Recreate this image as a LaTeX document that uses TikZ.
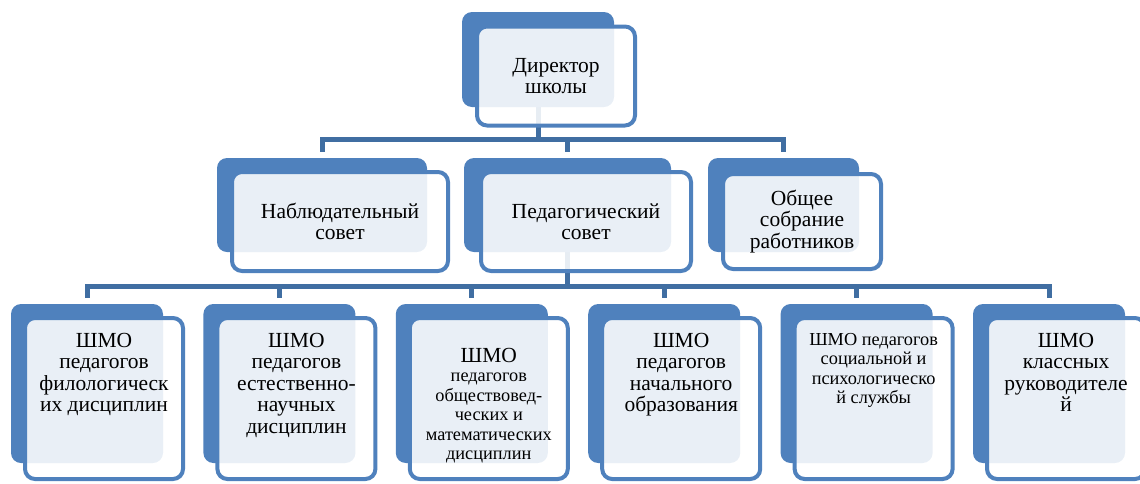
\documentclass[tikz,border=0pt]{standalone}
\usepackage{fontspec}
\setmainfont{Liberation Serif}
\usetikzlibrary{backgrounds}
\definecolor{boxblue}{RGB}{79,129,189}
\definecolor{linkblue}{RGB}{64,110,162}
\newcommand{\boxfont}{\fontsize{21.5}{21.5}\selectfont}
\newcommand{\smallboxfont}{\fontsize{18.3}{19.5}\selectfont}
\begin{document}
\begin{tikzpicture}[x=1pt, y=-1pt, line join=miter,
	back/.style={fill=boxblue, rounded corners=10pt, inner sep=0pt},
	front/.style={draw=boxblue, line width=4pt, fill=white, fill opacity=0.88, text opacity=1, rounded corners=10pt, inner sep=0pt, align=center, font=\boxfont},
	txt/.style={align=center, inner sep=0pt, anchor=north, font=\boxfont},
	link/.style={draw=linkblue, line width=5pt}]
	\useasboundingbox (0,0) rectangle (1140,483);
	\node[back, minimum width=152pt, minimum height=95pt] (bdir) at (538,59.5) {};
	\node[front, minimum width=158pt, minimum height=99pt] (fdir) at (556,76) {Директор\\школы};
	\node[back, minimum width=210pt, minimum height=94pt] (bnab) at (322,205) {};
	\node[front, minimum width=216pt, minimum height=99pt] (fnab) at (340,221.5) {Наблюдательный\\совет};
	\node[back, minimum width=207pt, minimum height=94pt] (bped) at (567.5,205) {};
	\node[front, minimum width=210pt, minimum height=99pt] (fped) at (586,221.5) {Педагогический\\совет};
	\node[back, minimum width=151pt, minimum height=94pt] (bob) at (783.5,205) {};
	\node[front, minimum width=158pt, minimum height=95pt] (fob) at (802,221.5) {Общее\\собрание\\работников};
	\node[back, minimum width=152pt, minimum height=159pt] (b1) at (87,383.5) {};
	\node[front, minimum width=158pt, minimum height=161pt] (f1) at (104,398.5) {};
	\node[back, minimum width=152pt, minimum height=159pt] (b2) at (279.4,383.5) {};
	\node[front, minimum width=158pt, minimum height=161pt] (f2) at (296.4,398.5) {};
	\node[back, minimum width=152pt, minimum height=159pt] (b3) at (471.8,383.5) {};
	\node[front, minimum width=158pt, minimum height=161pt] (f3) at (488.8,398.5) {};
	\node[back, minimum width=152pt, minimum height=159pt] (b4) at (664.2,383.5) {};
	\node[front, minimum width=158pt, minimum height=161pt] (f4) at (681.2,398.5) {};
	\node[back, minimum width=152pt, minimum height=159pt] (b5) at (856.6,383.5) {};
	\node[front, minimum width=158pt, minimum height=161pt] (f5) at (873.6,398.5) {};
	\node[back, minimum width=152pt, minimum height=159pt] (b6) at (1049,383.5) {};
	\node[front, minimum width=158pt, minimum height=161pt] (f6) at (1066,398.5) {};
	\node[txt] (t1) at (f1.north |- 0,333) {ШМО\\педагогов\\филологическ\\их дисциплин};
	\node[txt] (t2) at (f2.north |- 0,333) {ШМО\\педагогов\\естественно-\\научных\\дисциплин};
	\node[txt, font=\smallboxfont] (t3) at (f3.north |- 0,348) {{\boxfont ШМО}\\педагогов\\обществовед-\\ческих и\\математических\\дисциплин};
	\node[txt] (t4) at (f4.north |- 0,333) {ШМО\\педагогов\\начального\\образования};
	\node[txt, font=\smallboxfont] (t5) at (f5.north |- 0,333) {ШМО педагогов\\социальной и\\психологическо\\й службы};
	\node[txt] (t6) at (f6.north |- 0,333) {ШМО\\классных\\руководителе\\й};
	\begin{scope}[on background layer]
		\coordinate (bus1) at (538,140);
		\coordinate (bus2) at (567.5,287);
		\draw[link] (bdir.south) -- (bus1);
		\draw[link] ([yshift=6pt]bnab.north) -- ++(0,-12) -| ([yshift=6pt]bob.north);
		\draw[link] ([yshift=6pt]bped.north) -- (bped.north |- bus1);
		\draw[link] (bped.south) -- (bus2);
		\draw[link] ([yshift=6pt]b1.north) -- ++(0,-11) -| ([yshift=6pt]b6.north);
		\draw[link] ([yshift=6pt]b2.north) -- (b2.north |- bus2);
		\draw[link] ([yshift=6pt]b3.north) -- (b3.north |- bus2);
		\draw[link] ([yshift=6pt]b4.north) -- (b4.north |- bus2);
		\draw[link] ([yshift=6pt]b5.north) -- (b5.north |- bus2);
	\end{scope}
\end{tikzpicture}
\end{document}
